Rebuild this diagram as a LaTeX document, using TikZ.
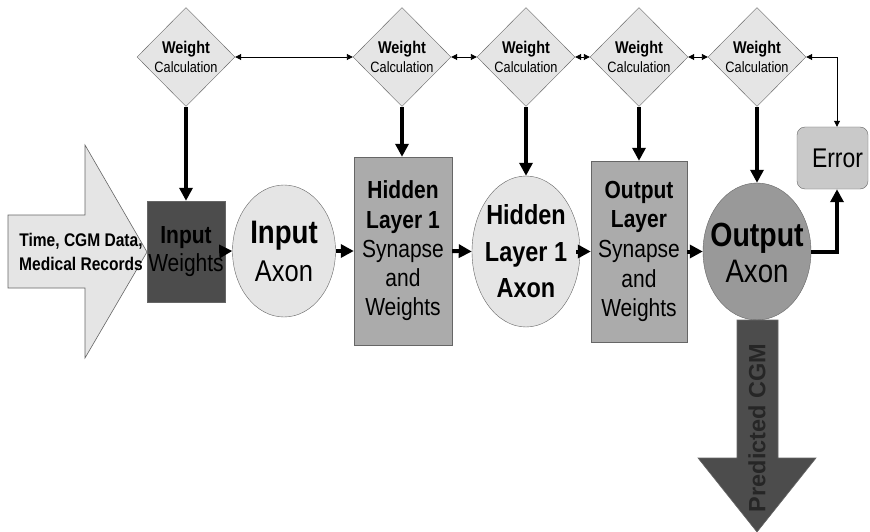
\documentclass[tikz,border=0pt]{standalone}
\usepackage{fontspec}
\setmainfont{Liberation Sans}[FakeStretch=0.85]
\newfontfamily\plainsans{Liberation Sans}
\usetikzlibrary{shapes.geometric,arrows.meta}
\definecolor{dgray}{gray}{0.30}
\definecolor{mgray}{gray}{0.67}
\definecolor{ogray}{gray}{0.60}
\definecolor{lgray}{gray}{0.90}
\definecolor{egray}{gray}{0.79}
\definecolor{edge}{gray}{0.40}
\begin{document}
\begin{tikzpicture}[x=1pt,y=-1pt,
  wc/.style={diamond, draw=edge, fill=lgray, minimum width=98pt, minimum height=99pt, inner sep=0pt},
  wctext/.style={align=center, inner sep=0pt, font=\fontsize{15}{19}\selectfont},
  boxshape/.style={rectangle, draw=edge, fill=mgray, inner sep=0pt},
  ellshape/.style={ellipse, draw=edge, fill=lgray, inner sep=0pt},
  txt/.style={align=center, inner sep=0pt},
  bigarrow/.style={line width=4pt, -{Triangle[length=13pt,width=13pt]}},
  linkarrow/.style={line width=0.9pt, {Triangle[length=6pt,width=6pt]}-{Triangle[length=6pt,width=6pt]}}
]
\useasboundingbox (0,0) rectangle (870,532);
\fill[white] (0,0) rectangle (870,532);

% input arrow
\draw[edge, fill=lgray, line width=0.6pt] (8,215) -- (85,215) -- (85,145) -- (147,252) -- (85,358) -- (85,288) -- (8,288) -- cycle;
\node[txt, font=\fontsize{18.3}{24}\selectfont\bfseries] (intext) at (81,252) {Time, CGM Data,\\Medical Records};

% diamonds
\node[wc] (d1) at (186,57) {};
\node[wc] (d2) at (402,57) {};
\node[wc] (d3) at (526,57) {};
\node[wc] (d4) at (639,57) {};
\node[wc] (d5) at (757,57) {};
\foreach \n in {1,...,5}{
  \node[wctext] (d\n t) at (d\n) {{\fontsize{17}{19}\selectfont\bfseries Weight}\\Calculation};
}

% main blocks
\node[boxshape, fill=dgray, minimum width=78pt, minimum height=101pt] (iw) at (186,251.5) {};
\node[txt, font=\fontsize{24.7}{28}\selectfont] (iwt) at (iw) {\textbf{Input}\\Weights};

\node[ellshape, minimum width=103pt, minimum height=132pt] (ia) at (284,251) {};
\node[txt, font=\fontsize{30}{38}\selectfont] (iat) at (ia) {{\fontsize{32.5}{38}\selectfont\bfseries Input}\\Axon};

\node[boxshape, minimum width=98pt, minimum height=188pt] (hs) at (403,251) {};
\node[txt, font=\fontsize{24.7}{29.3}\selectfont] (hst) at (hs) {\textbf{Hidden}\\\textbf{Layer 1}\\Synapse\\and\\Weights};

\node[ellshape, minimum width=108pt, minimum height=151pt] (ha) at (526,251.5) {};
\node[txt, font=\fontsize{27.6}{36.5}\selectfont\bfseries] (hat) at (ha) {Hidden\\Layer 1\\Axon};

\node[boxshape, minimum width=96pt, minimum height=181pt] (os) at (639,251.5) {};
\node[txt, font=\fontsize{24.7}{29.7}\selectfont] (ost) at (os) {\textbf{Output}\\\textbf{Layer}\\Synapse\\and\\Weights};

\node[ellshape, fill=ogray, minimum width=108pt, minimum height=137pt] (oa) at (757,251.5) {};
\node[txt, font=\fontsize{32.5}{36}\selectfont] (oat) at ([yshift=-1pt]oa) {{\fontsize{33.5}{36}\selectfont\bfseries Output}\\Axon};

\node[rectangle, rounded corners=8pt, draw=edge, fill=egray, minimum width=71pt, minimum height=62pt, inner sep=0pt] (err) at (832.5,158) {};
\node[txt, font=\fontsize{27}{30}\selectfont] (errt) at ([xshift=5pt]err) {Error};

% predicted arrow
\draw[edge, fill=dgray, line width=0.6pt] (737,320) -- (778,320) -- (778,458) -- (816,458) -- (757,532) -- (698,458) -- (737,458) -- cycle;
\node[txt, rotate=90, font=\plainsans\fontsize{23.5}{28}\selectfont\bfseries, text=black!85] (pred) at (757,428) {Predicted CGM};

% links between diamonds
\draw[linkarrow] (d1.east) -- (d2.west);
\draw[linkarrow] (d2.east) -- (d3.west);
\draw[linkarrow] (d3.east) -- (d4.west);
\draw[linkarrow] (d4.east) -- (d5.west);
\draw[linkarrow] (d5.east) -| ([xshift=4.5pt]err.north);

% vertical arrows
\draw[bigarrow] (d1.south) -- (iw.north);
\draw[bigarrow] (d2.south) -- (hs.north -| d2.south);
\draw[bigarrow] (d3.south) -- (ha.north);
\draw[bigarrow] (d4.south) -- (os.north);
\draw[bigarrow] (d5.south) -- (oa.north);

% horizontal arrows
\draw[bigarrow] ([xshift=-6pt]iw.east) -- (ia.west);
\draw[bigarrow] (ia.east) -- (hs.west);
\draw[bigarrow] (hs.east) -- (ha.west);
\draw[bigarrow] ([xshift=-4pt]ha.east) -- (os.west);
\draw[bigarrow] (os.east) -- (oa.west);
\draw[bigarrow] (oa.east) -| ([xshift=4.5pt]err.south);
\end{tikzpicture}
\end{document}
